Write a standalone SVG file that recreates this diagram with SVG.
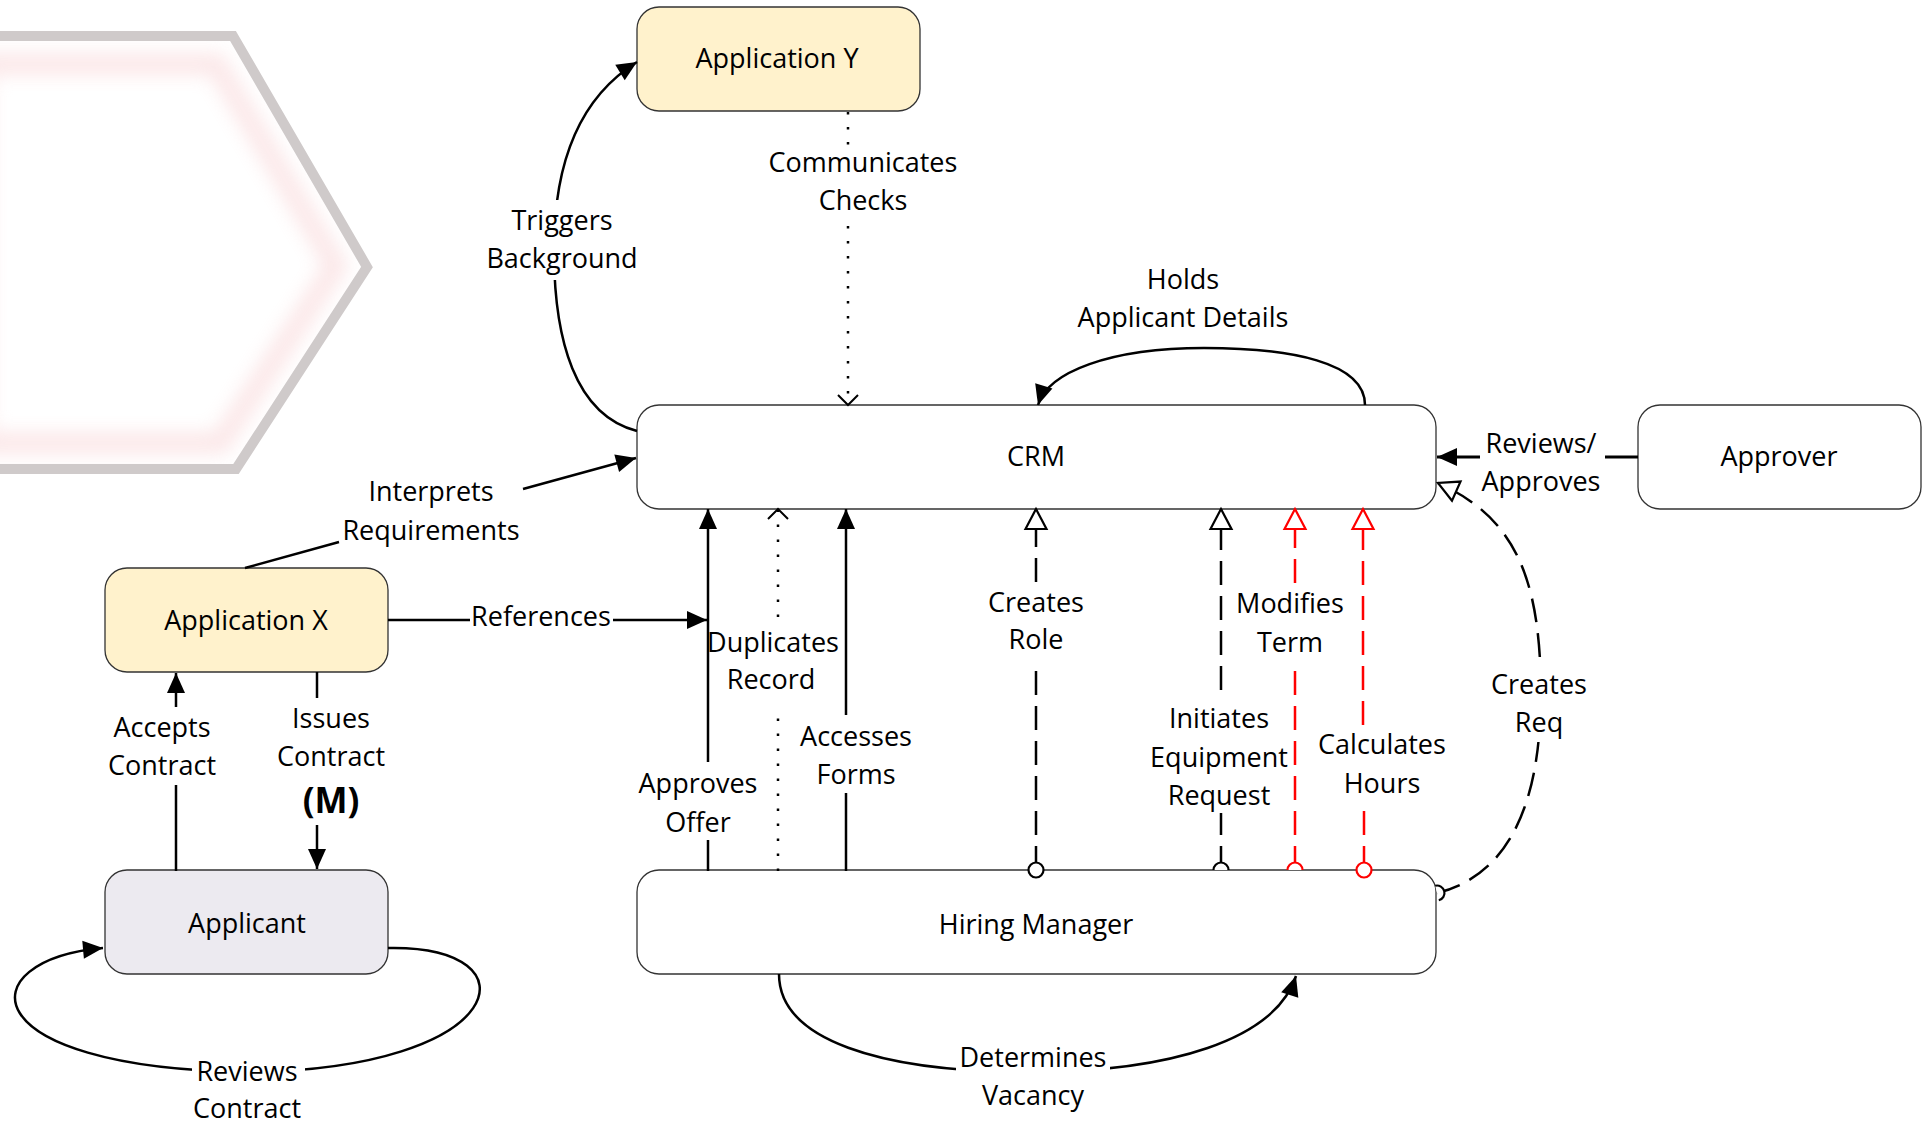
<svg xmlns="http://www.w3.org/2000/svg" width="1931" height="1123" viewBox="0 0 1931 1123">
<style>
.node{stroke:#333;stroke-width:1.3}
.plain{fill:#fff}
.yellow{fill:#FFF2CC}
.lav{fill:#ECEAF0}
.t{font-family:"Open Sans","Liberation Sans",sans-serif;font-size:27px;fill:#000;text-anchor:middle}
.tb{font-family:"Open Sans","Liberation Sans",sans-serif;font-size:35px;font-weight:bold;fill:#000;text-anchor:middle}
.ln{fill:none;stroke:#000;stroke-width:2.5}
.red{stroke:#f00}
.dash{stroke-dasharray:24 11}
.dot{stroke-dasharray:2.5 12.5}
.bg{fill:#fff}
</style>
<defs>
<filter id="blur" x="-20%" y="-20%" width="140%" height="140%"><feGaussianBlur stdDeviation="9"/></filter>
<filter id="soft"><feGaussianBlur stdDeviation="0.7"/></filter>
<marker id="arr" markerUnits="userSpaceOnUse" markerWidth="22" markerHeight="20" refX="20" refY="9" orient="auto" overflow="visible"><path d="M0,0 L20,9 L0,18 z" fill="#000"/></marker>
<marker id="tri" markerUnits="userSpaceOnUse" markerWidth="24" markerHeight="24" refX="20" refY="10.5" orient="auto" overflow="visible"><path d="M0,0 L20,10.5 L0,21 z" fill="#fff" stroke="#000" stroke-width="2.2"/></marker>
<marker id="triR" markerUnits="userSpaceOnUse" markerWidth="24" markerHeight="24" refX="20" refY="10.5" orient="auto" overflow="visible"><path d="M0,0 L20,10.5 L0,21 z" fill="#fff" stroke="#f00" stroke-width="2.2"/></marker>
<marker id="chev" markerUnits="userSpaceOnUse" markerWidth="14" markerHeight="22" refX="10" refY="10" orient="auto" overflow="visible"><path d="M0,0 L10,10 L0,20" fill="none" stroke="#000" stroke-width="2"/></marker>
<marker id="circ" markerUnits="userSpaceOnUse" markerWidth="20" markerHeight="20" refX="0" refY="0" orient="auto" overflow="visible"><circle cx="0" cy="0" r="7.5" fill="#fff" stroke="#000" stroke-width="2.2"/></marker>
<marker id="circR" markerUnits="userSpaceOnUse" markerWidth="20" markerHeight="20" refX="0" refY="0" orient="auto" overflow="visible"><circle cx="0" cy="0" r="7.5" fill="#fff" stroke="#f00" stroke-width="2.2"/></marker>
<marker id="half" markerUnits="userSpaceOnUse" markerWidth="20" markerHeight="20" refX="0" refY="0" orient="auto" overflow="visible"><path d="M0,-7.5 A7.5,7.5 0 0 1 0,7.5" fill="#fff" stroke="#000" stroke-width="2.2"/></marker>
<marker id="halfR" markerUnits="userSpaceOnUse" markerWidth="20" markerHeight="20" refX="0" refY="0" orient="auto" overflow="visible"><path d="M0,-7.5 A7.5,7.5 0 0 1 0,7.5" fill="#fff" stroke="#f00" stroke-width="2.2"/></marker>
</defs>
<rect width="1931" height="1123" fill="#fff"/>
<g id="background-hexagon">
<polygon points="-20,64 216,64 336,266 220,443 -20,443" fill="none" stroke="#F6C6C8" stroke-width="22" opacity="0.4" filter="url(#blur)"/>
<polygon points="-20,36 233,36 367,267 236,469 -20,469" fill="none" stroke="#CFCACA" stroke-width="10" filter="url(#soft)"/>
</g>
<g id="nodes">
<g id="node-application-y"><rect class="node yellow" x="637" y="7" width="283" height="104" rx="22"/><text class="t" x="777" y="68">Application Y</text></g>
<g id="node-crm"><rect class="node plain" x="637" y="405" width="799" height="104" rx="22"/><text class="t" x="1036" y="466">CRM</text></g>
<g id="node-approver"><rect class="node plain" x="1638" y="405" width="283" height="104" rx="22"/><text class="t" x="1779" y="466">Approver</text></g>
<g id="node-application-x"><rect class="node yellow" x="105" y="568" width="283" height="104" rx="22"/><text class="t" x="246" y="630">Application X</text></g>
<g id="node-applicant"><rect class="node lav" x="105" y="870" width="283" height="104" rx="22"/><text class="t" x="247" y="933">Applicant</text></g>
<g id="node-hiring-manager"><rect class="node plain" x="637" y="870" width="799" height="104" rx="22"/><text class="t" x="1036" y="934">Hiring Manager</text></g>
</g>
<g id="connectors">
<g id="c-triggers-background">
<path class="ln" d="M637,431 C575,415 554,340 554,250 C554,140 595,88 637,62" marker-end="url(#arr)"/>
<rect class="bg" x="538" y="200" width="32" height="80"/>
<text class="t" x="562" y="230">Triggers</text><text class="t" x="562" y="268">Background</text>
</g>
<g id="c-communicates-checks">
<path class="ln dot" d="M848,112 L848,148"/>
<path class="ln dot" d="M848,226 L848,405" marker-end="url(#chev)"/>
<text class="t" x="863" y="172">Communicates</text><text class="t" x="863" y="210">Checks</text>
</g>
<g id="c-holds-applicant-details">
<path class="ln" d="M1365,405 C1365,362 1290,348 1204,348 C1110,348 1048,372 1038,405" marker-end="url(#arr)"/>
<text class="t" x="1183" y="289">Holds</text><text class="t" x="1183" y="327">Applicant Details</text>
</g>
<g id="c-reviews-approves">
<path class="ln" style="stroke-width:3" d="M1638,457 L1605,457"/>
<path class="ln" style="stroke-width:3" d="M1480,457 L1437,457" marker-end="url(#arr)"/>
<text class="t" x="1541" y="453">Reviews/</text><text class="t" x="1541" y="491">Approves</text>
</g>
<g id="c-creates-req">
<path class="ln dash" d="M1437,893 C1530,870 1545,760 1540,660 C1535,570 1510,515 1438,483" marker-start="url(#half)" marker-end="url(#tri)"/>
<rect class="bg" x="1524" y="660" width="32" height="82"/>
<text class="t" x="1539" y="694">Creates</text><text class="t" x="1539" y="732">Req</text>
</g>
<g id="c-interprets-requirements">
<path class="ln" d="M245,568 L339,542"/>
<path class="ln" d="M523,489 L636,458" marker-end="url(#arr)"/>
<text class="t" x="431" y="501">Interprets</text><text class="t" x="431" y="540">Requirements</text>
</g>
<g id="c-references">
<path class="ln" d="M388,620 L470,620"/>
<path class="ln" d="M613,620 L707,620" marker-end="url(#arr)"/>
<text class="t" x="541" y="626">References</text>
</g>
<g id="c-approves-offer">
<path class="ln" d="M708,871 L708,840"/>
<path class="ln" d="M708,762 L708,509" marker-end="url(#arr)"/>
<text class="t" x="698" y="793">Approves</text><text class="t" x="698" y="832">Offer</text>
</g>
<g id="c-duplicates-record">
<path class="ln dot" d="M778,871 L778,707"/>
<path class="ln dot" d="M778,617 L778,509" marker-end="url(#chev)"/>
<text class="t" x="773" y="652">Duplicates</text><text class="t" x="771" y="689">Record</text>
</g>
<g id="c-accesses-forms">
<path class="ln" d="M846,871 L846,793"/>
<path class="ln" d="M846,715 L846,509" marker-end="url(#arr)"/>
<text class="t" x="856" y="746">Accesses</text><text class="t" x="856" y="784">Forms</text>
</g>
<g id="c-creates-role">
<path class="ln dash" d="M1036,870 L1036,668" marker-start="url(#circ)"/>
<path class="ln dash" d="M1036,582 L1036,509" marker-end="url(#tri)"/>
<text class="t" x="1036" y="612">Creates</text><text class="t" x="1036" y="649">Role</text>
</g>
<g id="c-initiates-equipment-request">
<path class="ln dash" d="M1221,870 L1221,813" marker-start="url(#half)"/>
<path class="ln dash" d="M1221,690 L1221,509" marker-end="url(#tri)"/>
<text class="t" x="1219" y="728">Initiates</text><text class="t" x="1219" y="767">Equipment</text><text class="t" x="1219" y="805">Request</text>
</g>
<g id="c-modifies-term">
<path class="ln dash red" d="M1295,870 L1295,667" marker-start="url(#halfR)"/>
<path class="ln dash red" d="M1295,583 L1295,509" marker-end="url(#triR)"/>
<text class="t" x="1290" y="613">Modifies</text><text class="t" x="1290" y="652">Term</text>
</g>
<g id="c-calculates-hours">
<path class="ln dash red" d="M1364,870 L1364,807" marker-start="url(#circR)"/>
<path class="ln dash red" d="M1363,725 L1363,509" marker-end="url(#triR)"/>
<text class="t" x="1382" y="754">Calculates</text><text class="t" x="1382" y="793">Hours</text>
</g>
<g id="c-determines-vacancy">
<path class="ln" d="M779,974 C779,1040 880,1072 1030,1072 C1170,1072 1275,1040 1296,976" marker-end="url(#arr)"/>
<rect class="bg" x="956" y="1056" width="154" height="30"/>
<text class="t" x="1033" y="1067">Determines</text><text class="t" x="1033" y="1105">Vacancy</text>
</g>
<g id="c-reviews-contract">
<path class="ln" d="M388,948 C540,945 510,1070 247,1072 C-32,1068 -32,960 103,948" marker-end="url(#arr)"/>
<rect class="bg" x="192" y="1058" width="113" height="28"/>
<text class="t" x="247" y="1081">Reviews</text><text class="t" x="247" y="1118">Contract</text>
</g>
<g id="c-accepts-contract">
<path class="ln" d="M176,871 L176,785"/>
<path class="ln" d="M176,707 L176,673" marker-end="url(#arr)"/>
<text class="t" x="162" y="737">Accepts</text><text class="t" x="162" y="775">Contract</text>
</g>
<g id="c-issues-contract">
<path class="ln" d="M317,672 L317,698"/>
<path class="ln" d="M317,825 L317,869" marker-end="url(#arr)"/>
<text class="t" x="331" y="728">Issues</text><text class="t" x="331" y="766">Contract</text><text class="tb" x="331" y="813">(M)</text>
</g>
</g>
</svg>
